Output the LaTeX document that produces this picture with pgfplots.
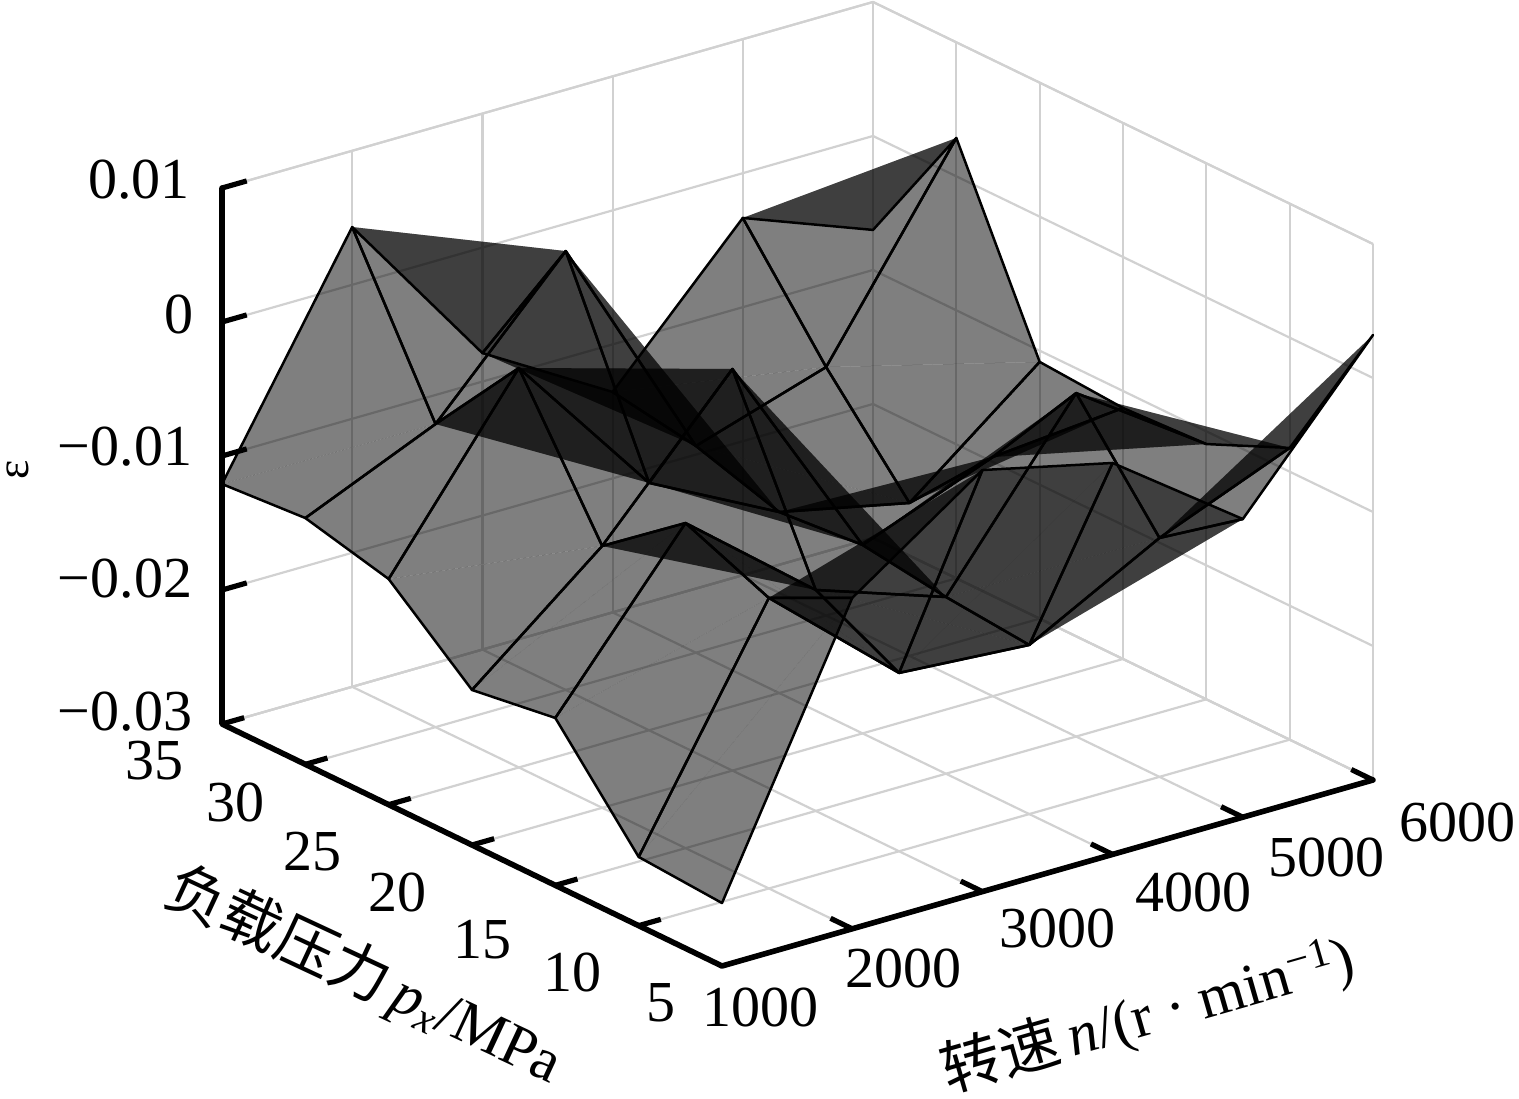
\documentclass[border=0pt]{standalone}
\usepackage{pgfplots}
\usepackage{pgfplotstable}
\pgfplotsset{compat=1.18}
\usepackage{fontspec}
\setmainfont{Liberation Serif}
\newfontfamily\cjk{Noto Sans CJK SC}
\newcommand\lab[4][0]{\node[rotate=#1,inner sep=0pt,font=\fontsize{29}{32}\selectfont] at ([shift={({(#2-722)*0.5pt},{(966-#3)*0.5pt})}]O) {#4};}
\pgfplotstableread{
x y z
1000 5 -0.02530
1000 10 -0.02487
1000 15 -0.01751
1000 20 -0.01843
1000 25 -0.01316
1000 30 -0.01162
1000 35 -0.01209
2000 5 -0.00531
2000 10 -0.00832
2000 15 -0.00574
2000 20 -0.01046
2000 25 -0.00019
2000 30 -0.00738
2000 35 0.00431
3000 5 0.00146
3000 10 -0.01669
3000 15 -0.01351
3000 20 -0.00003
3000 25 -0.01154
3000 30 0.00275
3000 35 -0.00787
4000 5 -0.00079
4000 10 -0.01738
4000 15 -0.01681
4000 20 -0.01594
4000 25 -0.01649
4000 30 -0.01457
4000 35 -0.01355
5000 5 -0.00775
5000 10 -0.01217
5000 15 -0.00437
5000 20 -0.01215
5000 25 -0.01859
5000 30 -0.01146
5000 35 -0.00334
6000 5 0.00321
6000 10 -0.00823
6000 15 -0.01095
6000 20 -0.01127
6000 25 -0.01084
6000 30 0.00286
6000 35 -0.00701
}\surfdata
\begin{document}
\begin{tikzpicture}
\begin{axis}[
  x={(0.0651pt,0.0186pt)},
  y={(-8.3333pt,4.0333pt)},
  z={(0pt,6700pt)},
  xmin=1000,xmax=6000,ymin=5,ymax=35,zmin=-0.03,zmax=0.01,
  xtick={1000,2000,3000,4000,5000,6000},
  ytick={5,10,15,20,25,30,35},
  ztick={-0.03,-0.02,-0.01,0,0.01},
  xticklabels={},yticklabels={},zticklabels={},
  scaled x ticks=false,scaled y ticks=false,scaled z ticks=false,
  major tick length=0pt,
  tick style={draw=none},
  grid=major,
  grid style={black!18,line width=1.1pt},
  axis line style={black!18,line width=1.1pt},
  clip=false,
  colormap={blk}{color=(black) color=(black)},
]
\addplot3[patch,patch type=triangle,shader=flat,draw opacity=0,line width=0pt,
  fill opacity=0.5,table/row sep=\\,
  patch table={
0 7 1\\ 7 8 1\\ 1 8 2\\ 8 9 2\\ 2 9 3\\ 9 10 3\\ 3 10 4\\ 10 11 4\\ 4 11 5\\ 11 12 5\\ 5 12 6\\ 12 13 6\\
7 14 8\\ 14 15 8\\ 8 15 9\\ 15 16 9\\ 9 16 10\\ 16 17 10\\ 10 17 11\\ 17 18 11\\ 11 18 12\\ 18 19 12\\ 12 19 13\\ 19 20 13\\
14 21 15\\ 21 22 15\\ 15 22 16\\ 22 23 16\\ 16 23 17\\ 23 24 17\\ 17 24 18\\ 24 25 18\\ 18 25 19\\ 25 26 19\\ 19 26 20\\ 26 27 20\\
21 28 22\\ 28 29 22\\ 22 29 23\\ 29 30 23\\ 23 30 24\\ 30 31 24\\ 24 31 25\\ 31 32 25\\ 25 32 26\\ 32 33 26\\ 26 33 27\\ 33 34 27\\
28 35 29\\ 35 36 29\\ 29 36 30\\ 36 37 30\\ 30 37 31\\ 37 38 31\\ 31 38 32\\ 38 39 32\\ 32 39 33\\ 39 40 33\\ 33 40 34\\ 40 41 34\\
}] table {\surfdata};
\addplot3[mesh,color=black,line width=1.25pt,line join=round,
  mesh/rows=7,mesh/cols=6,mesh/ordering=y varies] table {\surfdata};
\coordinate (O) at (axis cs:1000,5,-0.03);
% axis frame
\draw[black,line width=2.8pt,line cap=round,line join=round]
  (axis cs:6000,5,-0.03) -- (axis cs:1000,5,-0.03) -- (axis cs:1000,35,-0.03) -- (axis cs:1000,35,0.01);
\pgfplotsinvokeforeach{2000,3000,4000,5000,6000}{
  \draw[black,line width=2.6pt] (axis cs:#1,5,-0.03) -- (axis cs:#1,6.3,-0.03);}
\pgfplotsinvokeforeach{10,15,20,25,30,35}{
  \draw[black,line width=2.6pt] (axis cs:1000,#1,-0.03) -- (axis cs:1170,#1,-0.03);}
\pgfplotsinvokeforeach{-0.02,-0.01,0,0.01}{
  \draw[black,line width=2.6pt] (axis cs:1000,35,#1) -- (axis cs:1190,35,#1);}
\end{axis}
\pgfresetboundingbox
\path[use as bounding box] ([shift={(-361pt,-66pt)}]O) rectangle ([shift={(398.5pt,483pt)}]O);
\lab{760}{1007}{1000}\lab{903}{968}{2000}\lab{1057}{928}{3000}\lab{1193}{892}{4000}\lab{1326}{857}{5000}\lab{1457}{822}{6000}
\lab{155}{761}{35}\lab{235}{802}{30}\lab{312}{852}{25}\lab{397}{892}{20}\lab{482}{940}{15}\lab{572}{972}{10}\lab{661}{1003}{5}
\lab{139}{180}{0.01}\lab{179}{315}{0}\lab{125}{447}{−0.01}\lab{125}{579}{−0.02}\lab{125}{712}{−0.03}
\lab[90]{18}{470}{\fontsize{23}{25}\selectfont ε}
\lab[-25]{364}{976}{\fontsize{30}{33}\selectfont{\cjk 负载压力}\,\textit{p}\textsubscript{\textit{x}}/MPa}
\lab[16]{1148}{1016}{\fontsize{30}{33}\selectfont{\cjk 转速}\,\textit{n}/(r\ ·\ min\textsuperscript{−1})}
\end{tikzpicture}
\end{document}
